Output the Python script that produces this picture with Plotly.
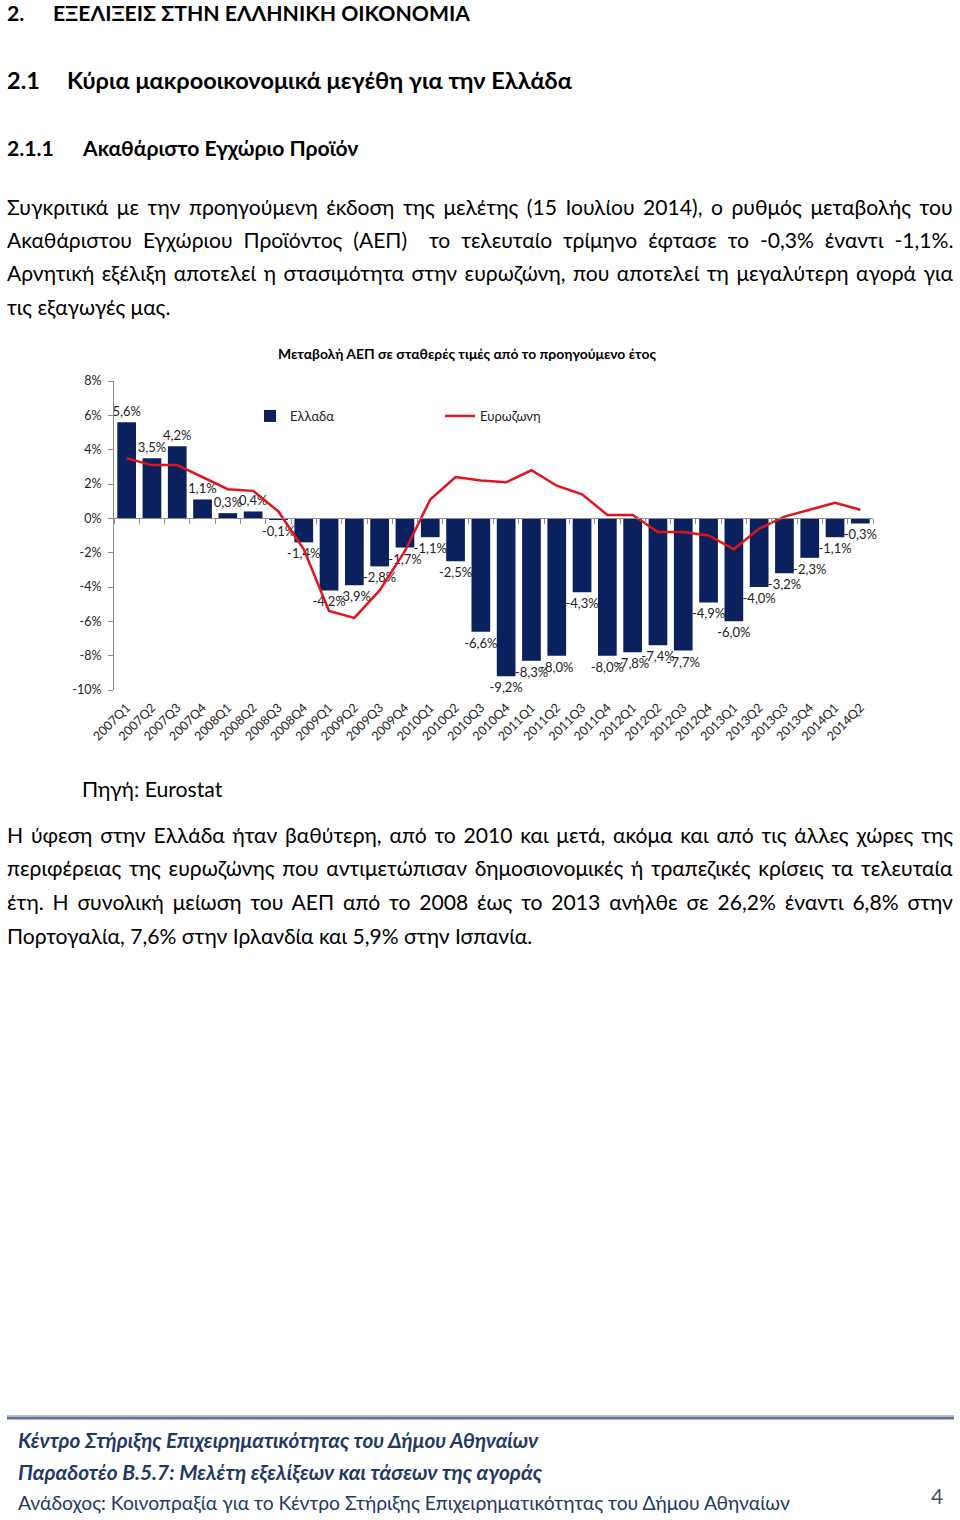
import plotly.graph_objects as go

quarters = ["2007Q1", "2007Q2", "2007Q3", "2007Q4",
            "2008Q1", "2008Q2", "2008Q3", "2008Q4",
            "2009Q1", "2009Q2", "2009Q3", "2009Q4",
            "2010Q1", "2010Q2", "2010Q3", "2010Q4",
            "2011Q1", "2011Q2", "2011Q3", "2011Q4",
            "2012Q1", "2012Q2", "2012Q3", "2012Q4",
            "2013Q1", "2013Q2", "2013Q3", "2013Q4",
            "2014Q1", "2014Q2"]
greece = [5.6, 3.5, 4.2, 1.1,
          0.3, 0.4, -0.1, -1.4,
          -4.2, -3.9, -2.8, -1.7,
          -1.1, -2.5, -6.6, -9.2,
          -8.3, -8.0, -4.3, -8.0,
          -7.8, -7.4, -7.7, -4.9,
          -6.0, -4.0, -3.2, -2.3,
          -1.1, -0.3]
eurozone = [3.5, 3.1, 3.1, 2.4,
            1.7, 1.6, 0.4, -1.8,
            -5.4, -5.8, -4.2, -1.9,
            1.1, 2.4, 2.2, 2.1,
            2.8, 1.9, 1.4, 0.2,
            0.2, -0.8, -0.8, -1.0,
            -1.8, -0.6, 0.1, 0.5,
            0.9, 0.5]
y_tick_values = [-10, -8, -6, -4, -2, 0, 2, 4, 6, 8]
y_tick_labels = ["-10%", "-8%", "-6%", "-4%", "-2%", "0%", "2%", "4%", "6%", "8%"]

chart_title = "Μεταβολή ΑΕΠ σε σταθερές τιμές από το προηγούμενο έτος"
series_names = ["Ελλαδα", "Ευρωζωνη"]

para1 = ["Συγκριτικά με την προηγούμενη έκδοση της μελέτης (15 Ιουλίου 2014), ο ρυθμός μεταβολής του",
         "Ακαθάριστου Εγχώριου Προϊόντος (ΑΕΠ)\u00a0 το τελευταίο τρίμηνο έφτασε το -0,3% έναντι -1,1%.",
         "Αρνητική εξέλιξη αποτελεί η στασιμότητα στην ευρωζώνη, που αποτελεί τη μεγαλύτερη αγορά για",
         "τις εξαγωγές μας."]
para2 = ["Η ύφεση στην Ελλάδα ήταν βαθύτερη, από το 2010 και μετά, ακόμα και από τις άλλες χώρες της",
         "περιφέρειας της ευρωζώνης που αντιμετώπισαν δημοσιονομικές ή τραπεζικές κρίσεις τα τελευταία",
         "έτη. Η συνολική μείωση του ΑΕΠ από το 2008 έως το 2013 ανήλθε σε 26,2% έναντι 6,8% στην",
         "Πορτογαλία, 7,6% στην Ιρλανδία και 5,9% στην Ισπανία."]
# extra word spacing (px) used to justify the paragraph lines
para1_ws = [3.14, 5.5, 2.1, 0]
para2_ws = [2.4, 2.3, 3.45, 0]

W, H = 960, 1520
FONT = "Lato, 'Open Sans', sans-serif"


def X(px):
    return px / W


def Y(py):
    return 1 - py / H


bar_labels = [("%.1f%%" % v).replace(".", ",") for v in greece]

fig = go.Figure()
fig.add_trace(go.Bar(
    x=quarters, y=greece, name=series_names[0],
    marker=dict(color="#0a215e", line=dict(width=0)),
    text=bar_labels, textposition="outside", cliponaxis=False,
    constraintext="none",
    textfont=dict(family=FONT, size=13, color="#222222"),
    xaxis="x", yaxis="y",
))
fig.add_trace(go.Scatter(
    x=quarters, y=eurozone, name=series_names[1], mode="lines",
    line=dict(color="#e0141e", width=2.5),
    xaxis="x2", yaxis="y",
))

y0, y1 = 690, 381  # pixel rows of -10% and 8%
zero_py = y0 + (y1 - y0) * (0 - (-10)) / 18

fig.update_layout(
    width=W, height=H,
    margin=dict(l=0, r=0, t=0, b=0, autoexpand=False),
    paper_bgcolor="white", plot_bgcolor="rgba(0,0,0,0)",
    font=dict(family=FONT, color="#000000"),
    bargap=0.26,
    showlegend=True,
    legend=dict(orientation="h", x=X(250), y=Y(416), xanchor="left", yanchor="middle",
                entrywidth=145, entrywidthmode="pixels",
                font=dict(family=FONT, size=13, color="#222222"),
                bgcolor="rgba(0,0,0,0)", traceorder="normal"),
    xaxis=dict(domain=[X(114), X(873)], type="category", categoryarray=quarters,
               range=[-0.5, 29.5], showline=False, ticks="", showgrid=False,
               tickangle=-45, tickfont=dict(family=FONT, size=12.5, color="#222222"),
               ticklabelstandoff=7,
               anchor="y", zeroline=False, automargin=False),
    xaxis2=dict(overlaying="x", type="category", categoryarray=quarters,
                range=[-0.5, 29.5], anchor="free", position=Y(zero_py),
                showline=True, linecolor="#8c8c8c", linewidth=1,
                ticks="outside", tickson="boundaries", ticklen=5, tickcolor="#8c8c8c",
                showticklabels=False, showgrid=False, zeroline=False, automargin=False),
    yaxis=dict(domain=[Y(y0), Y(y1)], range=[-10, 8], tickvals=y_tick_values,
               ticktext=y_tick_labels, showline=True, linecolor="#8c8c8c", linewidth=1,
               ticks="outside", ticklen=5, tickcolor="#8c8c8c", showgrid=False,
               ticklabelstandoff=4,
               zeroline=False, tickfont=dict(family=FONT, size=12.5, color="#222222"),
               anchor="x", automargin=False),
)

ann = []


def text(x, y, s, size=20, bold=False, italic=False, color="#000000", xanchor="left", ws=0):
    if ws:
        s = '<span style="word-spacing:%.2fpx">%s</span>' % (ws, s)
    if bold:
        s = "<b>" + s + "</b>"
    if italic:
        s = "<i>" + s + "</i>"
    ann.append(dict(x=X(x), y=Y(y), xref="paper", yref="paper", text=s, showarrow=False,
                    xanchor=xanchor, yanchor="middle", align="left",
                    font=dict(family=FONT, size=size, color=color), borderpad=0))


# headings
text(6, 13, "2.", 21.2, bold=True)
text(52, 13, "ΕΞΕΛΙΞΕΙΣ ΣΤΗΝ ΕΛΛΗΝΙΚΗ ΟΙΚΟΝΟΜΙΑ", 21.2, bold=True)
text(6, 80, "2.1", 23.5, bold=True)
text(66, 80, "Κύρια μακροοικονομικά μεγέθη για την Ελλάδα", 23.5, bold=True)
text(6, 147, "2.1.1", 21.1, bold=True)
text(81, 147, "Ακαθάριστο Εγχώριο Προϊόν", 21.1, bold=True)

for i, line in enumerate(para1):
    text(6, 206 + i * 33.5, line, 21.1, ws=para1_ws[i])

text(467, 353, chart_title, 13.9, bold=True, xanchor="center")
text(81, 789, "Πηγή: Eurostat", 21.2)

for i, line in enumerate(para2):
    text(6, 834 + i * 33.7, line, 21.1, ws=para2_ws[i])

# footer
NAVY = "#1f3864"
text(17, 1440, "Κέντρο Στήριξης Επιχειρηματικότητας του Δήμου Αθηναίων", 20.75, bold=True, italic=True, color=NAVY)
text(17, 1471, "Παραδοτέο Β.5.7: Μελέτη εξελίξεων και τάσεων της αγοράς", 20.9, bold=True, italic=True, color=NAVY)
text(17, 1502, "Ανάδοχος: Κοινοπραξία για το Κέντρο Στήριξης Επιχειρηματικότητας του Δήμου Αθηναίων", 19.3, color=NAVY)
text(930, 1495, "4", 21, color="#44546a")

fig.update_layout(annotations=ann)
fig.add_shape(type="line", xref="paper", yref="paper", x0=X(7), x1=X(954), y0=Y(1418), y1=Y(1418),
              line=dict(color="#62728f", width=3))
fig.add_shape(type="line", xref="paper", yref="paper", x0=X(7), x1=X(954), y0=Y(1415.5), y1=Y(1415.5),
              line=dict(color="#b6bfcf", width=1))

fig.write_html("out.html", config={"displayModeBar": False},
               post_script="document.body.style.margin='0';document.body.style.overflow='hidden';")
